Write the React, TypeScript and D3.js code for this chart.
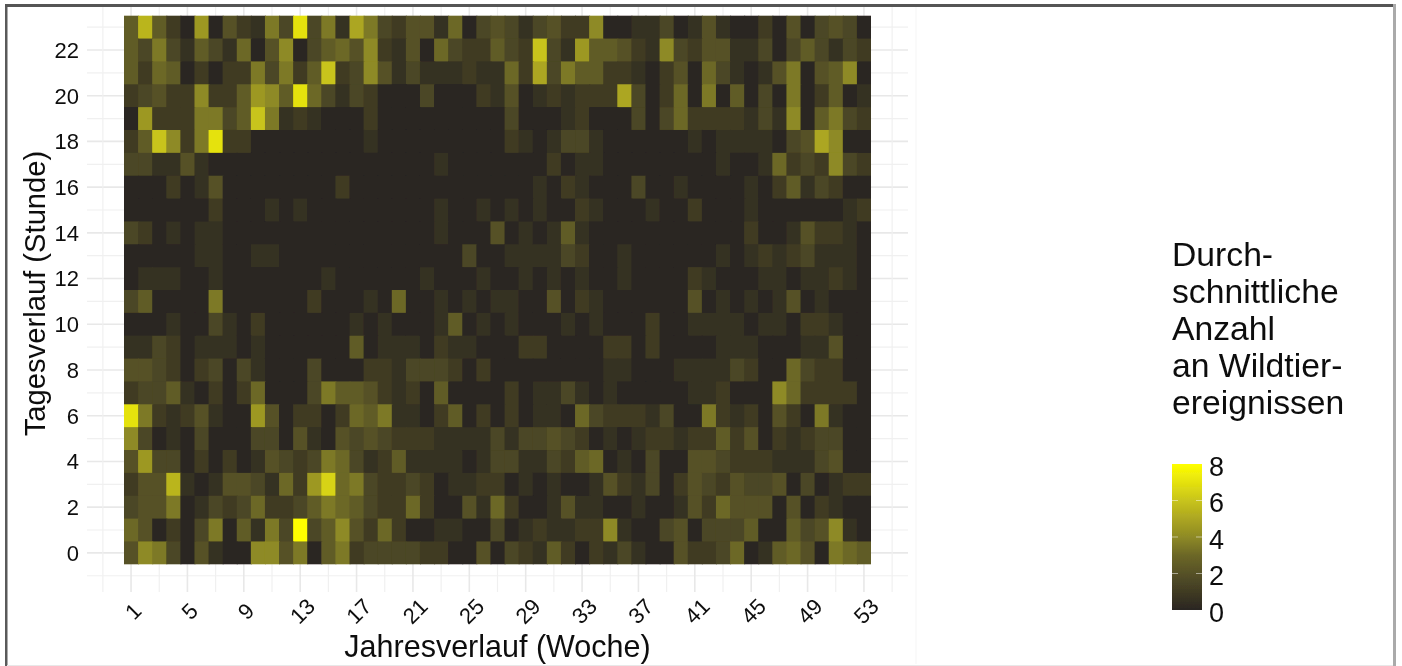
import React from "react";
import * as d3 from "d3";

const xTickWeeks = [1, 5, 9, 13, 17, 21, 25, 29, 33, 37, 41, 45, 49, 53];
const yTickHours = [0, 2, 4, 6, 8, 10, 12, 14, 16, 18, 20, 22];
const gridWeeks = [-1, 1, 3, 5, 7, 9, 11, 13, 15, 17, 19, 21, 23, 25, 27, 29, 31, 33, 35, 37, 39, 41, 43, 45, 47, 49, 51, 53, 55];
const gridHours = [-1, 0, 1, 2, 3, 4, 5, 6, 7, 8, 9, 10, 11, 12, 13, 14, 15, 16, 17, 18, 19, 20, 21, 22, 23];
const legendTicks = [0, 2, 4, 6, 8];
const legendTitle = ["Durch-", "schnittliche", "Anzahl", "an Wildtier-", "ereignissen"];
const colorStops = [0, 1, 2, 3, 4, 5, 6, 7, 8];
const colorValues = ["#2a2623", "#403b24", "#565126", "#6c6727", "#8e8a25", "#aca621", "#c8c41c", "#e5e20e", "#ffff00"];

const hour23 = [2.5,5.5,2.5,1,0,4.5,0,2,1,.5,3.5,1.5,7,1.5,3.5,.5,5,3.5,1.5,1,2,2,.5,3,0,1.5, 2,1.5,.5,1.5,2,1,1,4,0,0,.5,.5,1.5,0,.5,2,.5,0,0,1,0,2,0,1.5,2,1.5,0];
const hour22 = [2.5,1.5,3.5,1.5,.5,2.5,1.5,.5,3,0,2,4,0,1.5,2.5,3,2,4,1,.5,2,0,3,1.5,1,1, 2.5,1.5,1,6,1.5,.5,4.5,2.5,2.5,2,1,.5,4,1.5,1,2,2,.5,.5,1.5,0,1.5,2.5,1.5,.5,1.5,1];
const hour21 = [2.5,1,3,2.5,0,1,0,1,1,3.5,1.5,3.5,1,2.5,6,1,1.5,4,2,.5,1.5,.5,.5,.5,1,.5, .5,3,1,5,1.5,3.5,2.5,2.5,1,1,.5,0,1,2,0,3,1.5,.5,0,.5,2,3.5,0,2,2.5,4,0];
const hour20 = [1,1.5,2,1,1,4,1,1,2.5,4.5,4,2.5,7,3,1.5,.5,1.5,1,0,0,0,1.5,0,0,0,1, .5,2,0,.5,1,.5,1,1,1,5,1.5,0,1,3,0,3.5,0,2.5,0,1.5,0,3.5,0,1,2.5,0,.5];
const hour19 = [0,4.5,1,1,1,3.5,3.5,1.5,2.5,6,3.5,.5,1,.5,0,0,0,1,0,0,0,0,0,0,0,0, 0,1.5,0,0,0,.5,1,0,0,0,1.5,0,1.5,3,1,1,1,1,.5,1.5,.5,4,0,2.5,3.5,1.5,1];
const hour18 = [1,2.5,6,4,1,3.5,7,1,1,0,0,0,0,0,0,0,0,.5,0,0,0,0,0,0,0,0, 0,1,.5,0,.5,1.5,1.5,.5,0,0,0,0,0,0,.5,0,.5,.5,.5,.5,0,1.5,2,5,4,0,0];
const hour17 = [1.5,1.5,.5,.5,2,.5,0,0,0,0,0,0,0,0,0,0,0,0,0,0,0,0,.5,0,0,0, 0,0,0,0,1,0,.5,.5,0,0,0,0,0,0,0,0,.5,0,0,.5,3,1,1.5,1,4,1.5,1];
const hour16 = [0,0,0,1,0,.5,2,0,0,0,0,0,0,0,0,1,0,0,0,0,0,0,0,0,0,0, 0,0,0,.5,0,1,.5,0,0,0,1.5,0,0,.5,0,0,0,0,.5,0,1,2.5,.5,1.5,1,0,0];
const hour15 = [0,0,0,0,0,0,1,0,0,0,.5,0,.5,0,0,0,0,0,0,0,0,0,.5,0,0,.5, 0,.5,0,.5,0,0,1,.5,0,0,0,.5,0,0,1,0,0,0,.5,0,0,0,0,0,0,.5,1];
const hour14 = [1.5,1,0,.5,0,.5,.5,0,0,0,0,0,0,0,0,0,0,0,0,0,0,0,.5,0,0,0, 2,0,.5,0,.5,2.5,.5,0,0,0,0,0,0,0,0,0,0,0,1,0,0,.5,2,1,1,.5,0];
const hour13 = [0,0,0,0,0,.5,.5,0,0,.5,.5,0,0,0,0,0,0,0,0,0,0,0,0,0,1.5,0, 0,.5,.5,.5,.5,1.5,1,0,0,.5,0,0,0,0,0,0,.5,0,.5,1,.5,1,1.5,.5,.5,.5,0];
const hour12 = [0,.5,.5,.5,0,0,.5,0,0,0,0,0,0,0,.5,0,0,0,0,0,0,.5,0,0,0,.5, 0,0,.5,0,.5,0,.5,0,0,.5,0,0,0,0,1,.5,0,0,0,.5,.5,0,.5,.5,1,.5,0];
const hour11 = [1.5,2.5,0,0,0,0,3.5,0,0,0,0,0,0,1,0,0,0,.5,0,3,0,0,.5,0,.5,0, .5,.5,0,0,2,0,1,.5,0,0,0,0,0,0,2,0,.5,0,.5,0,.5,2,0,.5,0,0,0];
const hour10 = [0,0,0,.5,0,0,1.5,.5,0,1,0,0,0,0,0,0,.5,0,.5,0,0,0,.5,2.5,0,.5, 0,.5,0,0,0,.5,0,.5,0,0,0,1,0,0,.5,.5,.5,.5,0,.5,.5,0,1,1,.5,0,0];
const hour09 = [.5,.5,1.5,1,0,.5,.5,.5,0,.5,0,0,0,0,0,0,2.5,0,.5,.5,.5,0,1,.5,.5,0, 0,0,1,1,0,0,0,0,1,1,0,1,0,0,0,0,.5,.5,.5,0,0,0,.5,.5,2,0,0];
const hour08 = [2,2,1.5,1,0,1,1.5,0,1.5,.5,0,0,0,1.5,0,0,0,1,1,.5,1.5,1.5,1.5,1,0,1, 0,0,0,0,0,0,0,0,.5,.5,0,0,0,.5,.5,.5,.5,1.5,1,0,0,3,1.5,1,1,0,0];
const hour07 = [1,1.5,1.5,2.5,.5,0,1,0,1,3,0,0,0,1.5,3.5,2.5,2.5,2,1,.5,1,0,2.5,0,0,0, 0,1,0,.5,.5,1.5,.5,0,.5,0,0,0,0,0,.5,.5,1,0,0,0,4,3,1,1,1,1,0];
const hour06 = [7,3.5,1,.5,1,2,.5,0,0,4.5,2,0,1,1,0,1,3,2.5,3.5,.5,.5,0,1,2.5,0,1, 0,1,0,.5,.5,0,3,1.5,1,1,1,.5,1.5,0,0,3.5,1,.5,1,0,2,1,0,3.5,.5,0,0];
const hour05 = [4,1.5,0,.5,0,1.5,0,0,0,1.5,1.5,0,2,.5,0,2,1.5,2,1.5,1,1,1,.5,.5,.5,.5, 1.5,.5,1.5,1.5,2,1.5,1,0,.5,0,.5,1,1,.5,1,1,2.5,1,2,0,1,.5,1,1.5,1.5,0,0];
const hour04 = [2,4.5,1.5,1.5,0,1,0,1,0,.5,2,1.5,1,1.5,3.5,3,1.5,.5,1,2.5,.5,.5,.5,.5,0,.5, 1.5,1.5,.5,.5,1.5,1,2.5,3,0,.5,0,1.5,0,0,2,2,1.5,1,1,1,.5,.5,.5,1.5,2,0,0];
const hour03 = [1,2,2,5.5,.5,0,.5,2,2,1.5,.5,3,1,4.5,6.5,3,3.5,1.5,1,1,1.5,1,0,.5,.5,1, 1,0,.5,0,.5,0,0,.5,2,1,.5,1.5,0,1,2,1.5,1,2,1.5,1.5,2,0,1.5,0,.5,1,1];
const hour02 = [1.5,2,2,3.5,0,.5,1.5,1,1.5,3,1,1,1.5,2.5,3.5,3,2.5,1.5,1,1,3,1,0,0,2,.5, 3,1,0,0,.5,2,.5,.5,0,0,.5,0,0,.5,2,1,3,2,2,2,0,2,0,1,.5,0,0];
const hour01 = [3,2,0,1,0,1.5,3.5,0,2.5,.5,3.5,1.5,8,1.5,2.5,4,2,1,3,1,0,0,.5,.5,0,0, 1.5,0,.5,1,.5,.5,1,1,4,.5,0,0,1.5,2,0,1.5,1.5,1.5,2.5,0,0,2.5,1.5,2,4,.5,0];
const hour00 = [2,4,3.5,1.5,0,2,.5,0,0,4,4,2,3.5,0,2.5,3.5,1,1.5,1.5,1.5,1.5,1,1,0,0,2, 0,1.5,1,.5,2.5,1,0,1,.5,1.5,.5,0,0,2,1,1,1.5,3,0,.5,2.5,3,2,0,3.5,3,2.5];

const hourRows = [hour00, hour01, hour02, hour03, hour04, hour05, hour06, hour07, hour08, hour09, hour10, hour11, hour12, hour13, hour14, hour15, hour16, hour17, hour18, hour19, hour20, hour21, hour22, hour23];

const FONT = "'Liberation Sans', Arial, sans-serif";

export default function App() {
  const x = d3.scaleLinear().domain([0.5, 53.5]).range([124, 871]);
  const y = d3.scaleLinear().domain([-0.5, 23.5]).range([564.3, 15.7]);
  const color = d3.scaleLinear<string>().domain(colorStops).range(colorValues);
  const legendY = d3.scaleLinear().domain([0, 8]).range([610, 464]);
  const hoursTopDown = d3.range(23, -1, -1);

  return (
    <svg width={1402} height={666} viewBox="0 0 1402 666" style={{ position: "absolute", left: 0, top: 0, background: "#fff" }} fontFamily={FONT}>
      <defs>
        <linearGradient id="legendGrad" x1="0" y1="1" x2="0" y2="0">
          {colorStops.map((s) => (
            <stop key={s} offset={s / 8} stopColor={color(s)} />
          ))}
        </linearGradient>
        <filter id="soft" x="-2%" y="-2%" width="104%" height="104%">
          <feGaussianBlur stdDeviation="0.55" />
        </filter>
      </defs>

      <g filter="url(#soft)">
        <line x1={916} x2={916} y1={7} y2={664} stroke="#f9f9f9" strokeWidth={1.5} />
        {gridHours.map((h) => (
          <line key={h} x1={87} x2={908} y1={y(h)} y2={y(h)} stroke={h % 2 === 0 ? "#e8e8e8" : "#f0f0f0"} strokeWidth={h % 2 === 0 ? 1.6 : 1.2} />
        ))}
        {gridWeeks.map((w) => (
          <line key={w} x1={x(w)} x2={x(w)} y1={7} y2={592} stroke={(w - 1) % 4 === 0 ? "#e8e8e8" : "#f0f0f0"} strokeWidth={(w - 1) % 4 === 0 ? 1.6 : 1.2} />
        ))}

        {hoursTopDown.map((h) =>
          hourRows[h].map((v, i) => (
            <rect
              key={`${h}-${i}`}
              x={x(i + 0.5)}
              y={y(h + 0.5)}
              width={x(i + 1.5) - x(i + 0.5) + (i < 52 ? 1 : 0)}
              height={y(h - 0.5) - y(h + 0.5) + (h > 0 ? 1 : 0)}
              fill={color(v)}
            />
          ))
        )}

        <rect x={1172} y={464} width={30} height={146} fill="url(#legendGrad)" />
        {legendTicks.slice(1, 4).map((t) => (
          <g key={t} stroke="#ffffff" strokeOpacity={0.5} strokeWidth={1}>
            <line x1={1172} x2={1178} y1={legendY(t)} y2={legendY(t)} />
            <line x1={1196} x2={1202} y1={legendY(t)} y2={legendY(t)} />
          </g>
        ))}
      </g>

      <g fill="#111" filter="url(#soft)">
        {yTickHours.map((h) => (
          <text key={h} x={79} y={y(h)} dy="0.36em" textAnchor="end" fontSize={22}>{h}</text>
        ))}
        {xTickWeeks.map((w) => (
          <text key={w} transform={`translate(${x(w) + 2},${611}) rotate(-45)`} textAnchor="middle" dy="0.36em" fontSize={22}>{w}</text>
        ))}
        <text x={497.5} y={657} textAnchor="middle" fontSize={30.5}>Jahresverlauf (Woche)</text>
        <text transform="translate(45,293.5) rotate(-90)" textAnchor="middle" fontSize={29.2}>Tagesverlauf (Stunde)</text>
        {legendTitle.map((line, i) => (
          <text key={line} x={1172} y={266 + i * 37.1} fontSize={33.7}>{line}</text>
        ))}
        {legendTicks.map((t) => (
          <text key={t} x={1209} y={legendY(t) + 2} dy="0.36em" fontSize={27}>{t}</text>
        ))}
      </g>

      <rect x={5} y={4} width={2.5} height={662} fill="#5a5a5a" />
      <rect x={5} y={4} width={1391} height={3} fill="#555555" />
      <rect x={1393} y={4} width={3} height={662} fill="#aaaaaa" />
      <rect x={7} y={665} width={1386} height={1} fill="#e8e8e8" />
    </svg>
  );
}
